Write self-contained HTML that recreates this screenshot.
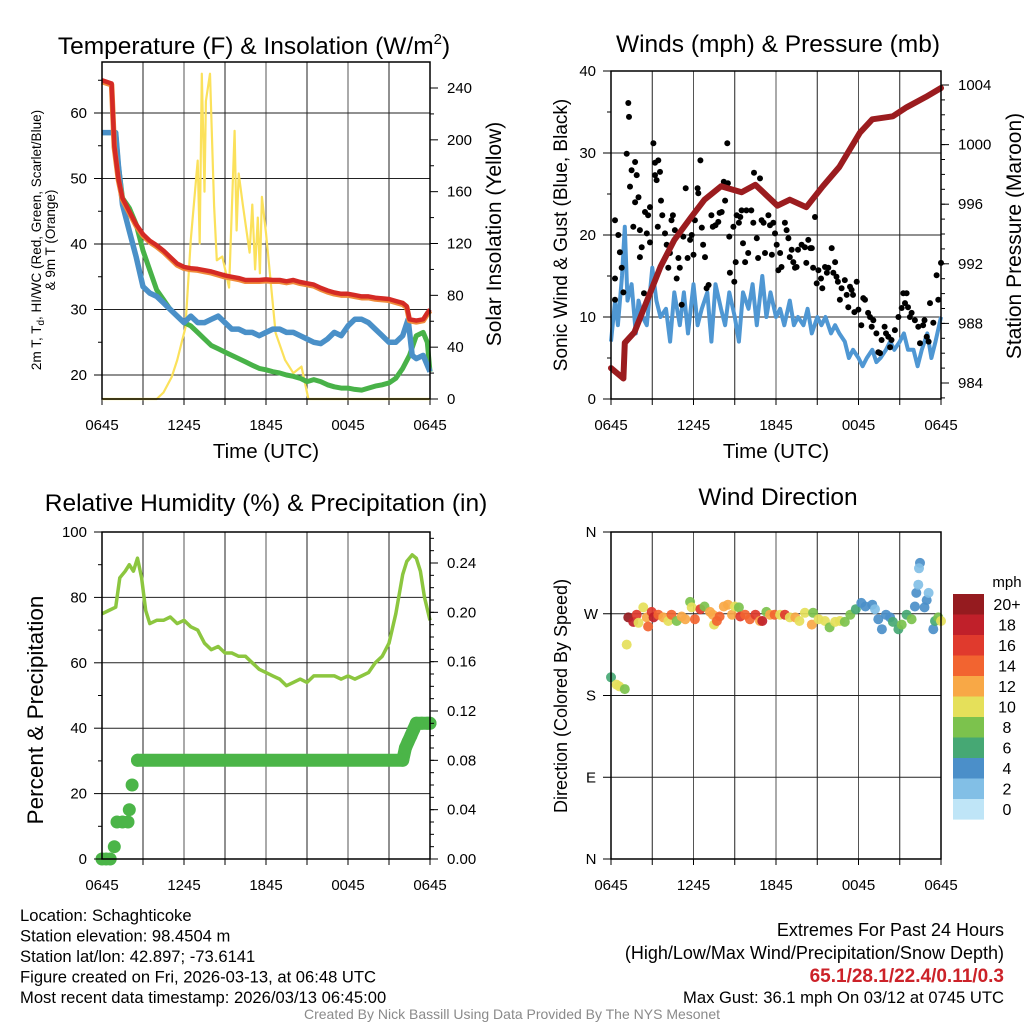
<!DOCTYPE html>
<html><head><meta charset="utf-8">
<style>
html,body{margin:0;padding:0;background:#fff;}
svg{display:block;font-family:"Liberation Sans",Arial,sans-serif;}
</style></head>
<body>
<svg id="chart" width="1024" height="1024" viewBox="0 0 1024 1024" xmlns="http://www.w3.org/2000/svg">
<rect width="1024" height="1024" fill="#fff"/>
</svg>
<script>
// ---------- DATA ----------
const xTickLabels = ["0645","1245","1845","0045","0645"];
const tempHours = [0,0.7,0.9,1.2,1.5,2,2.5,3,3.5,4,4.5,5,5.5,6,6.5,7,7.5,8,8.5,9,9.5,10,10.5,11,11.5,12,12.5,13,13.5,14,14.5,15,15.5,16,16.5,17,17.5,18,18.5,19,19.5,20,20.5,21,21.5,22,22.3,22.5,23,23.5,23.8,24];
const tempVals = [65,64.5,55,50,47,45,43,41.5,40.5,39.8,39,38,37,36.5,36.3,36.2,36,35.8,35.5,35.2,35,34.8,34.5,34.5,34.5,34.6,34.5,34.5,34.3,34.5,34.2,34,33.8,33.3,32.9,32.6,32.4,32.4,32.2,32,32,31.8,31.7,31.6,31.3,31,30.5,28.5,28.3,28.5,29.5,30];
const dewHours = [0,1,1.2,1.5,2,2.5,3,3.5,4,4.5,5,5.5,6,6.5,7,7.5,8,8.5,9,9.5,10,10.5,11,11.5,12,12.5,13,13.5,14,14.5,15,15.5,16,16.5,17,17.5,18,18.5,19,19.5,20,20.5,21,21.5,22,22.5,23,23.5,23.8,24];
const dewVals = [57,57,52,47,45.5,43,39,36,33,31.5,30,29,28,27.5,26.5,25.5,24.5,24,23.5,23,22.5,22,21.5,21,20.8,20.5,20.3,20,19.8,19.5,19,19.3,19,18.5,18.2,18,18,17.8,17.7,18,18.3,18.5,18.8,19.5,21,23,26,26.5,25,20.5];
const chillHours = [0,1,1.2,1.5,2,2.5,3,3.5,4,4.5,5,5.5,6,6.5,7,7.5,8,8.5,9,9.5,10,10.5,11,11.5,12,12.5,13,13.5,14,14.5,15,15.5,16,16.5,17,17.5,18,18.5,19,19.5,20,20.5,21,21.5,22,22.4,22.7,23,23.5,24];
const chillVals = [57,57,52,46,42,38,33.5,32.5,32,31,30,29,28,29,28,28,28.5,29,28,27,27,26.5,26.5,26,26.5,27,27,26.5,26.5,26,25.5,25,24.8,25.5,26.5,26,27.5,28.5,28.5,28,27,26,25,25,26,28.5,23,22.5,23,20.5];
const solarHours = [0,4.0,4.5,5.1,5.5,6.1,6.5,7.0,7.15,7.3,7.5,7.6,7.9,8.2,8.4,8.8,9.3,9.7,9.85,10.0,10.3,10.8,11.0,11.2,11.4,11.55,11.7,12.0,12.7,13.4,14.0,14.6,15.1,24];
const solarVals = [0,0,5,17,30,55,123,184,120,251,160,230,251,149,107,110,86,207,130,174,150,113,150,100,140,97,156,128,51,30,20,25,0,0];
const windHours = [0,0.3,0.5,0.8,1,1.2,1.5,1.8,2,2.3,2.6,3,3.3,3.6,4,4.3,4.6,5,5.3,5.6,6,6.3,6.6,7,7.3,7.6,8,8.3,8.6,9,9.3,9.6,10,10.3,10.6,11,11.3,11.6,12,12.3,12.6,13,13.3,13.6,14,14.3,14.6,15,15.3,15.6,16,16.3,16.6,17,17.3,17.6,18,18.3,18.6,19,19.3,19.6,20,20.3,20.6,21,21.3,21.6,22,22.3,22.6,23,23.3,23.6,24];
const windVals = [7,12,9,15,21,12,14,8,12,10,9,16,12,10,11,7,13,9,13,8,14,9,11,13,7,14,11,9,13,10,7,13,11,14,9,15,10,13,10,11,9,12,9,10,9,11,8,10,9,10,8,9,8,7,5,6,5,4,5,6,4.5,5,6,7,6,7,8,6,6,4,6,8,5,7,10];
const gustHours = [0.29,0.53,0.65,0.29,0.29,0.9,0.78,1.26,1.31,1.14,1.5,1.38,1.75,1.87,1.75,2,1.62,2.1,2.23,2.1,2.47,2.7,2.84,2.6,2.84,2.4,3.08,3.2,3.44,3.56,3.2,3.32,3.4,3.64,3.73,3.93,4.05,4.17,4.28,4.4,4.5,4.65,4.78,4.9,5.0,5.14,5.26,5.43,5.57,5.75,5.87,6.0,6.1,6.3,6.35,6.5,6.6,6.7,6.84,6.95,7.1,7.3,7.4,7.6,7.8,7.9,8.05,8.2,8.3,8.46,8.5,8.65,8.6,8.9,8.97,9.14,9.07,9.3,9.4,9.5,9.6,9.75,9.85,9.98,10.2,10.35,10.4,10.6,10.7,10.84,10.95,11.1,11.2,11.45,11.56,11.7,11.8,11.93,12.05,12.17,12.3,12.4,12.65,12.77,12.9,13,13.14,13.26,13.38,13.5,13.6,13.86,14.1,14.2,14.35,14.5,14.6,14.7,14.84,14.96,15.08,15.27,15.37,15.56,15.7,15.8,16.05,16.17,16.3,16.4,16.5,16.65,16.77,17,17.14,17.26,17.38,17.5,17.6,17.7,17.87,17.99,18.2,18.35,18.47,18.7,18.84,18.96,19.08,19.3,19.44,19.56,19.68,19.9,20,20.17,20.3,20.4,20.65,20.9,21.14,21.26,21.38,21.5,21.6,21.74,21.86,22.1,22.35,22.47,22.7,22.8,22.96,23.1,23.2,23.44,23.68,23.8,24.0];
const gustVals = [21.8,20,17.9,14.7,12.1,13,16,36.1,34.4,29.9,27.9,25.9,28.9,27.3,24,24.6,21,20.6,18.5,17.3,22.8,22.4,23.4,20.2,19.1,12.9,31.2,28.8,29.1,27.7,27.3,26.7,21,24.2,22.4,20.2,18.8,16,17.8,21.8,22.4,20.6,14.7,17.2,16,11.5,19.8,25.7,17.2,19.4,20,17.6,21.8,25.7,25.1,29.1,20.9,18.8,17.3,13.5,13.9,22.4,21,21.2,21.6,22.7,22.8,26.5,24.2,31.2,26.3,15.4,19.8,21,14.3,22.4,16.7,21.5,22.2,23,19,16.7,23,17.8,23,21.5,27.6,19.6,17.2,26.9,21.8,21.5,17.8,22.4,21.2,17.6,21.5,20.2,18.8,15.7,17.8,16.1,21.5,20.6,19.6,17.3,18.2,16.7,16,16.1,18.2,18.8,18.5,16.6,19.4,18.4,18.4,16,22.2,14.1,15.7,14.7,13.5,16.1,15.4,16,18.4,15.4,16.7,14.9,14.3,12.1,13.5,14.5,12.7,11.2,13.7,13.3,12.7,10.6,14.3,10.9,9,12.3,12.1,10.5,10,8.8,9.6,8,5.7,5.6,7.2,8.8,8,7.6,6.3,7.2,8.4,10,11.1,12.9,11.7,12.9,11.2,10,10.5,9.6,8.8,6.8,9,9.6,7.6,7,11.7,9.3,15.1,12.1,16.6];
const presHours = [0,0.9,1,1.7,3.6,4.6,5.8,6.8,8,9.5,10.5,12.1,13,14.2,15.4,16.6,18.1,19,20.5,21.5,22.9,24];
const presVals = [985,984.3,986.7,987.4,991.8,993.6,995.1,996.3,997.2,996.8,997.3,995.9,996.3,995.8,997.2,998.5,1000.8,1001.7,1001.9,1002.5,1003.2,1003.8];
const rhHours = [0,0.5,1,1.3,1.7,2,2.3,2.6,2.9,3.2,3.5,4,4.5,5,5.5,6,6.5,7,7.5,8,8.5,9,9.5,10,10.5,11,11.5,12,12.5,13,13.5,14,14.5,15,15.5,16,16.5,17,17.5,18,18.5,19,19.5,20,20.5,21,21.5,22,22.3,22.7,23,23.3,23.6,24];
const rhVals = [75,76,77,86,88,90,88,92,86,76,72,73,73,74,72,73,71,70,66,64,65,63,63,62,62,60,58,57,56,55,53,54,55,54,56,56,56,56,55,56,55,56,57,60,62,66,75,87,91,93,92,88,80,73];
const precipHours = [0,0.3,0.6,0.9,1.1,1.5,1.9,2.0,2.2,2.6,22.0,22.2,22.4,22.6,22.8,23.0,23.4,23.8,24];
const precipVals = [0,0,0,0.01,0.03,0.03,0.03,0.04,0.06,0.08,0.08,0.09,0.095,0.10,0.105,0.11,0.11,0.11,0.11];
const dirHours = [0,0.4,0.6,1,1.14,1.26,1.62,1.87,2,2.35,2.6,2.7,2.96,3.1,3.44,3.8,4.17,4.4,4.78,5.14,5.4,5.75,5.87,6.1,6.5,6.8,7.2,7.4,7.5,7.7,7.9,8.2,8.5,8.8,9,9.3,9.4,9.75,10.1,10.5,10.84,11,11.3,11.56,11.9,12.3,12.65,13,13.4,13.7,14.1,14.6,14.7,15.1,15.56,15.9,16.3,16.65,17,17.4,17.8,18.2,18.5,19,19.2,19.44,19.7,20,20.3,20.5,20.9,21.14,21.5,21.86,22.1,22.2,22.35,22.47,22.4,22.96,23.1,22.8,23.44,23.56,23.8,24];
const dirVals = [200,192,190,187,236,266,261,269,260,277,266,256,272,266,269,266,262,269,262,267,264,283,277,264,275,278,272,269,258,262,267,278,280,269,278,277,267,269,264,269,262,262,272,269,269,269,269,266,266,262,271,258,271,264,262,255,261,262,261,269,275,282,278,280,275,264,253,269,266,261,253,258,269,264,278,293,302,326,320,285,293,277,253,262,266,262];
const dirSpeeds = [6,10,10,8,10,21,18,16,10,10,12,14,16,18,14,12,10,14,8,12,12,8,10,14,16,8,12,12,10,14,14,12,12,12,10,8,16,14,14,16,12,18,8,12,14,10,16,10,12,10,10,12,8,10,10,8,10,10,8,8,6,4,4,4,2,4,4,4,4,6,6,8,6,8,4,4,2,4,2,4,2,4,4,6,8,10];
const speedBinLabels = ["20+","18","16","14","12","10","8","6","4","2","0"];
const speedBinColors = ["#951b1f","#c0202a","#e03a2d","#f26430","#f8a846","#e5e05a","#7cc24d","#46a874","#4b8fc9","#82bfe6","#bfe5f7"];

// ---------- HELPERS ----------
const NS = "http://www.w3.org/2000/svg";
const svg = document.getElementById("chart");
function mk(tag, attrs, parent){
  const e = document.createElementNS(NS, tag);
  for (const k in attrs) e.setAttribute(k, attrs[k]);
  (parent||svg).appendChild(e);
  return e;
}
function txt(s, x, y, size, anchor, parent, extra){
  const t = mk("text", Object.assign({x:x, y:y, "font-size":size, "text-anchor":anchor||"middle", fill:"#000"}, extra||{}), parent);
  t.textContent = s;
  return t;
}
function lin(d0,d1,r0,r1){ return v => r0 + (v-d0)/(d1-d0)*(r1-r0); }
function pathFrom(xs, ys, sx, sy){
  let d = "";
  for (let i=0;i<xs.length;i++) d += (i?"L":"M") + sx(xs[i]).toFixed(1) + "," + sy(ys[i]).toFixed(1);
  return d;
}
function speedColor(s){
  const idx = s>=20?0: 10 - Math.min(10, Math.floor(s/2));
  return speedBinColors[Math.max(0,Math.min(10,idx))];
}
function frame(name, x0, x1, y0, y1, hGrid){
  const g = mk("g", {});
  
  
  const sx = lin(0,24,x0,x1);
  for (let h=3; h<24; h+=3){
    const gl = mk("line", {x1:sx(h), x2:sx(h), y1:y0, y2:y1, stroke: (h%6===0)?"#555":"#222", "stroke-width":1}, g);
    
    
  }
  hGrid.forEach(y => {
    const gl = mk("line", {x1:x0, x2:x1, y1:y, y2:y, stroke:"#222", "stroke-width":1}, g);
    
    
  });
  for (let h=0; h<=24; h+=3){
    mk("line", {x1:sx(h), x2:sx(h), y1:y1, y2:y1+6, stroke:"#000", "stroke-width":1}, g);
  }
  xTickLabels.forEach((l,i) => {
    const t = txt(l, sx(i*6), y1+31, 15, "middle", g);
    
    
  });
  return {g, sx};
}
function border(g, x0,x1,y0,y1){
  mk("rect", {x:x0, y:y0, width:x1-x0, height:y1-y0, fill:"none", stroke:"#000", "stroke-width":1.5}, g);
}
function leftAxis(g, x, sy, major, minor, fmt){
  minor.forEach(v => mk("line",{x1:x-4,x2:x,y1:sy(v),y2:sy(v),stroke:"#000"},g));
  major.forEach(v => {
    mk("line",{x1:x-8,x2:x,y1:sy(v),y2:sy(v),stroke:"#000"},g);
    const t = txt(fmt?fmt(v):String(v), x-15, sy(v)+5, 15, "end", g);
    
    
  });
}
function rightAxis(g, x, sy, major, minor, fmt){
  minor.forEach(v => mk("line",{x1:x,x2:x+4,y1:sy(v),y2:sy(v),stroke:"#000"},g));
  major.forEach(v => {
    mk("line",{x1:x,x2:x+8,y1:sy(v),y2:sy(v),stroke:"#000"},g);
    const t = txt(fmt?fmt(v):String(v), x+17, sy(v)+5, 15, "start", g);
    
    
  });
}
function range(a,b,s){ const r=[]; for(let v=a; v<=b+1e-9; v+=s) r.push(+v.toFixed(4)); return r; }

// ---------- PANEL 1 ----------
(function(){
  const x0=102,x1=430,y0=62,y1=399;
  const sy = lin(20,60,375,113);
  const sr = lin(0,240,399,88);
  const {g, sx} = frame("temperature", x0,x1,y0,y1, [60,50,40,30,20].map(sy));
  const t = txt("Temperature (F) & Insolation (W/m", 254, 54, 24.5, "middle", g);
  const sup = mk("tspan",{dy:-10,"font-size":15},t); sup.textContent="2";
  const cl = mk("tspan",{dy:10},t); cl.textContent=")";
   
  const sol = mk("path",{d:pathFrom(solarHours,solarVals,sx,sr),fill:"none",stroke:"#fbe15b","stroke-width":2.2,"stroke-linejoin":"round"},g);
   
  const dew = mk("path",{d:pathFrom(dewHours,dewVals,sx,sy),fill:"none",stroke:"#48b248","stroke-width":5,"stroke-linejoin":"round"},g);
   
  const ch = mk("path",{d:pathFrom(chillHours,chillVals,sx,sy),fill:"none",stroke:"#4a90c8","stroke-width":5.5,"stroke-linejoin":"round"},g);
   
  const or = mk("path",{d:pathFrom(tempHours,tempVals.map(v=>v-0.2),sx,sy),fill:"none",stroke:"#f08a3a","stroke-width":5.5,"stroke-linejoin":"round"},g);
   
  const rd = mk("path",{d:pathFrom(tempHours,tempVals,sx,sy),fill:"none",stroke:"#d42a25","stroke-width":4.5,"stroke-linejoin":"round"},g);
   
  border(g,x0,x1,y0,y1);
  leftAxis(g, x0, sy, [20,30,40,50,60], [25,35,45,55,65]);
  rightAxis(g, x1, sr, [0,40,80,120,160,200,240], [20,60,100,140,180,220]);
  const yt = mk("text",{transform:"translate(41,240) rotate(-90)","font-size":13.5,"text-anchor":"middle"},g);
  yt.innerHTML = '2m T, T<tspan font-size="10" dy="3">d</tspan><tspan dy="-3">, HI/WC (Red, Green, Scarlet/Blue)</tspan>';
   
  const yt2 = txt("& 9m T (Orange)", 0,0,13.5,"middle",g,{transform:"translate(55,240) rotate(-90)"});
   
  const rt = txt("Solar Insolation (Yellow)",0,0,21,"middle",g,{transform:"translate(501,234) rotate(-90)"});
   
  const xt = txt("Time (UTC)", 266, 458, 20.5, "middle", g);
   
})();

// ---------- PANEL 2 ----------
(function(){
  const x0=611,x1=941,y0=71,y1=399;
  const sy = lin(0,40,399,71);
  const sp = lin(984,1004,383,85);
  const {g, sx} = frame("winds", x0,x1,y0,y1, [10,20,30].map(sy));
  const t = txt("Winds (mph) & Pressure (mb)", 778, 52, 24.5, "middle", g);
   
  const w = mk("path",{d:pathFrom(windHours,windVals,sx,sy),fill:"none",stroke:"#4f97d3","stroke-width":4,"stroke-linejoin":"round"},g);
   
  gustHours.forEach((h,i) => {
    const c = mk("circle",{cx:sx(h).toFixed(1),cy:sy(gustVals[i]).toFixed(1),r:3,fill:"#000"},g);
    
    
  });
  const p = mk("path",{d:pathFrom(presHours,presVals,sx,sp),fill:"none",stroke:"#9b1c1f","stroke-width":6,"stroke-linejoin":"round","stroke-linecap":"round"},g);
   
  border(g,x0,x1,y0,y1);
  leftAxis(g, x0, sy, [0,10,20,30,40], [5,15,25,35]);
  rightAxis(g, x1, sp, [984,988,992,996,1000,1004], range(983,1004,1));
  const yt = txt("Sonic Wind & Gust (Blue, Black)",0,0,19,"middle",g,{transform:"translate(567,235) rotate(-90)"});
   
  const rt = txt("Station Pressure (Maroon)",0,0,21,"middle",g,{transform:"translate(1021,236) rotate(-90)"});
   
  const xt = txt("Time (UTC)", 776, 458, 20.5, "middle", g);
   
})();

// ---------- PANEL 3 ----------
(function(){
  const x0=102,x1=430,y0=532,y1=859;
  const sy = lin(0,100,859,532);
  const sr = lin(0,0.24,859,563);
  const {g, sx} = frame("humidity", x0,x1,y0,y1, [20,40,60,80].map(sy));
  const t = txt("Relative Humidity (%) & Precipitation (in)", 266, 511, 24.5, "middle", g);
   
  const rh = mk("path",{d:pathFrom(rhHours,rhVals,sx,sy),fill:"none",stroke:"#8cc63f","stroke-width":3.5,"stroke-linejoin":"round"},g);
   
  const startIdx = precipVals.indexOf(0.08);
  const pl = mk("path",{d:pathFrom(precipHours.slice(startIdx),precipVals.slice(startIdx),sx,sr),fill:"none",stroke:"#4bb548","stroke-width":13,"stroke-linejoin":"round","stroke-linecap":"round"},g);
   
  precipHours.forEach((h,i) => {
    const c = mk("circle",{cx:sx(h).toFixed(1),cy:sr(precipVals[i]).toFixed(1),r:6.5,fill:"#4bb548"},g);
    
    
  });
  border(g,x0,x1,y0,y1);
  leftAxis(g, x0, sy, [0,20,40,60,80,100], [10,30,50,70,90]);
  rightAxis(g, x1, sr, [0,0.04,0.08,0.12,0.16,0.20,0.24], range(0.01,0.26,0.01), v=>v.toFixed(2));
  const yt = txt("Percent & Precipitation",0,0,22.5,"middle",g,{transform:"translate(43,710) rotate(-90)"});
   
})();

// ---------- PANEL 4 ----------
(function(){
  const x0=611,x1=941,y0=532,y1=859;
  const sy = lin(0,360,859,532);
  const {g, sx} = frame("wind-direction", x0,x1,y0,y1, [90,180,270].map(sy));
  const t = txt("Wind Direction", 778, 505, 24.5, "middle", g);
   
  dirHours.forEach((h,i) => {
    const c = mk("circle",{cx:sx(h).toFixed(1),cy:sy(dirVals[i]).toFixed(1),r:5,fill:speedColor(dirSpeeds[i]),"fill-opacity":0.92},g);
    
    
  });
  border(g,x0,x1,y0,y1);
  ["N","E","S","W","N"].forEach((l,i) => {
    mk("line",{x1:x0-8,x2:x0,y1:sy(i*90),y2:sy(i*90),stroke:"#000"},g);
    const tl = txt(l, 591, sy(i*90)+5, 15, "middle", g);
     
  });
  const yt = txt("Direction (Colored By Speed)",0,0,18,"middle",g,{transform:"translate(567,696) rotate(-90)"});
   
  const cb = mk("g",{},svg);
   
  const u = txt("mph", 1007, 587, 15, "middle", cb);
   
  speedBinLabels.forEach((l,i) => {
    const r = mk("rect",{x:953,y:594+i*20.5,width:31,height:20.6,fill:speedBinColors[i]},cb);
    
    
    const tl = txt(l, 1007, 594+i*20.5+16, 16, "middle", cb);
    
    
  });
})();

// ---------- FOOTER TEXT ----------
(function(){
  const g = mk("g",{});
   
  ["Location: Schaghticoke","Station elevation: 98.4504 m","Station lat/lon: 42.897; -73.6141","Figure created on Fri, 2026-03-13, at 06:48 UTC","Most recent data timestamp: 2026/03/13 06:45:00"].forEach((s,i)=>{
    const t = txt(s, 20, 921+i*20.5, 16.6, "start", g);
     
  });
  const g2 = mk("g",{});
   
  const a = txt("Extremes For Past 24 Hours", 1004, 936, 18, "end", g2);
   
  const b = txt("(High/Low/Max Wind/Precipitation/Snow Depth)", 1004, 959, 18, "end", g2);
   
  const c = txt("65.1/28.1/22.4/0.11/0.3", 1004, 982, 19, "end", g2, {fill:"#cc2229","font-weight":"bold"});
   
  const d = txt("Max Gust: 36.1 mph On 03/12 at 0745 UTC", 1004, 1003, 16.6, "end", g2);
   
  const f = txt("Created By Nick Bassill Using Data Provided By The NYS Mesonet", 512, 1019, 14, "middle", svg, {fill:"#8a8a8a"});
   
})();
</script>
</body></html>
